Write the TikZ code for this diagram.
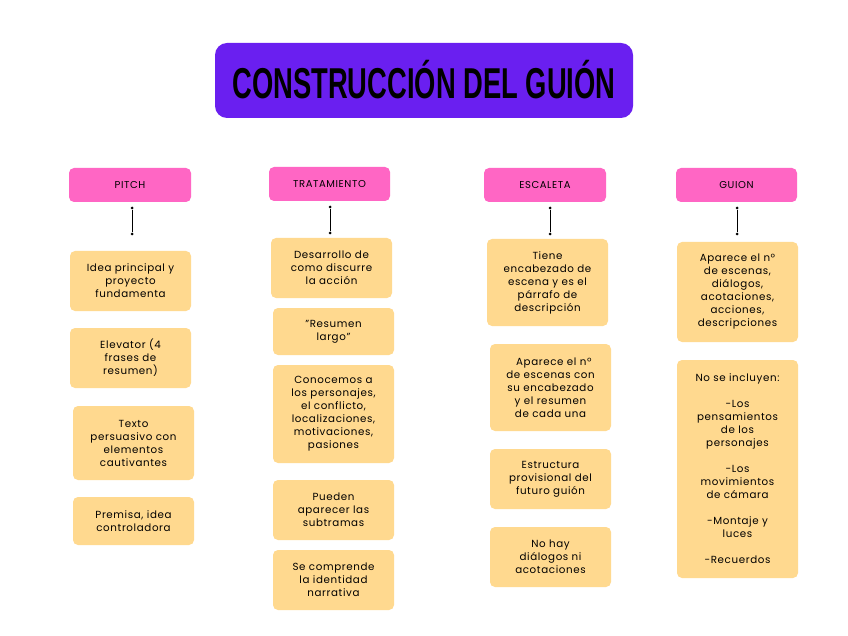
\documentclass[tikz,border=0pt]{standalone}
\usepackage{fontspec}
\setmainfont{Poppins}[LetterSpace=6]
\newfontfamily\titlefont{Liberation Sans}
\begin{document}
\begin{tikzpicture}[x=1pt,y=-1pt,
  head/.style={fill=pink1,rounded corners=5pt,font=\fontsize{10}{11}\selectfont,text=black},
  ybox/.style={fill=ybox1,rounded corners=5pt,align=center,font=\fontsize{10.3}{13}\selectfont,text=black},
  conn/.style={draw=black,line width=0.8pt},
  dotc/.style={circle,fill=black,inner sep=0pt,minimum size=3pt}]
\definecolor{pink1}{HTML}{FF66C4}
\definecolor{ybox1}{HTML}{FFD98F}
\definecolor{purp}{HTML}{6A1FF0}
\useasboundingbox (0,0) rectangle (848,636);
\fill[white] (0,0) rectangle (848,636);
% title
\fill[purp,rounded corners=12pt] (215,43) rectangle (633,118);
\node (title) at (424,80) {\titlefont\bfseries\fontsize{36}{40}\selectfont\scalebox{0.76}[1.2]{CONSTRUCCIÓN DEL GUIÓN}};
% headers
\node[head,minimum width=122,minimum height=34] (h1) at (130,185) {PITCH};
\node[head,minimum width=121,minimum height=34] (h2) at (329.5,184) {TRATAMIENTO};
\node[head,minimum width=122,minimum height=34] (h3) at (545,185) {ESCALETA};
\node[head,minimum width=121,minimum height=34] (h4) at (736.5,185) {GUION};
% connectors
\foreach \n/\x/\a/\b in {1/132/208/234,2/330/207/233,3/550/208/234,4/737/208/234}{
  \node[dotc] (ca\n) at (\x,\a) {};
  \node[dotc] (cb\n) at (\x,\b) {};
  \draw[conn] (ca\n) -- (cb\n);
}
% pitch
\node[ybox,minimum width=121,minimum height=60] (p1) at (130.5,281) {Idea principal y\\proyecto\\fundamenta};
\node[ybox,minimum width=121,minimum height=60] (p2) at (130.5,358) {Elevator (4\\frases de\\resumen)};
\node[ybox,minimum width=121,minimum height=74] (p3) at (133.5,443) {Texto\\persuasivo con\\elementos\\cautivantes};
\node[ybox,minimum width=121,minimum height=48] (p4) at (133.5,521) {Premisa, idea\\controladora};
% tratamiento
\node[ybox,minimum width=121,minimum height=60] (t1) at (331.5,268) {Desarrollo de\\como discurre\\la acción};
\node[ybox,minimum width=121,minimum height=47] (t2) at (333.5,331.5) {"Resumen\\largo"};
\node[ybox,minimum width=121,minimum height=98] (t3) at (333.5,414) {Conocemos a\\los personajes,\\el conflicto,\\localizaciones,\\motivaciones,\\pasiones};
\node[ybox,minimum width=121,minimum height=60] (t4) at (333.5,510) {Pueden\\aparecer las\\subtramas};
\node[ybox,minimum width=121,minimum height=60] (t5) at (333.5,580) {Se comprende\\la identidad\\narrativa};
% escaleta
\node[ybox,minimum width=121,minimum height=87] (e1) at (547.5,282.5) {Tiene\\encabezado de\\escena y es el\\párrafo de\\descripción};
\node[ybox,minimum width=121,minimum height=87] (e2) at (550.5,387.5) {\ \ Aparece el nº\\de escenas con\\su encabezado\\y el resumen\\de cada una};
\node[ybox,minimum width=121,minimum height=60] (e3) at (550.5,479) {Estructura\\provisional del\\futuro guión};
\node[ybox,minimum width=121,minimum height=60] (e4) at (550.5,557) {No hay\\diálogos ni\\acotaciones};
% guion
\node[ybox,minimum width=121,minimum height=100] (g1) at (737.5,292) {Aparece el nº\\de escenas,\\diálogos,\\acotaciones,\\acciones,\\descripciones};
\node[ybox,minimum width=121,minimum height=218] (g2) at (737.5,469) {No se incluyen:\\[13pt]-Los\\pensamientos\\de los\\personajes\\[13pt]-Los\\movimientos\\de cámara\\[13pt]-Montaje y\\luces\\[13pt]-Recuerdos};
\end{tikzpicture}
\end{document}
